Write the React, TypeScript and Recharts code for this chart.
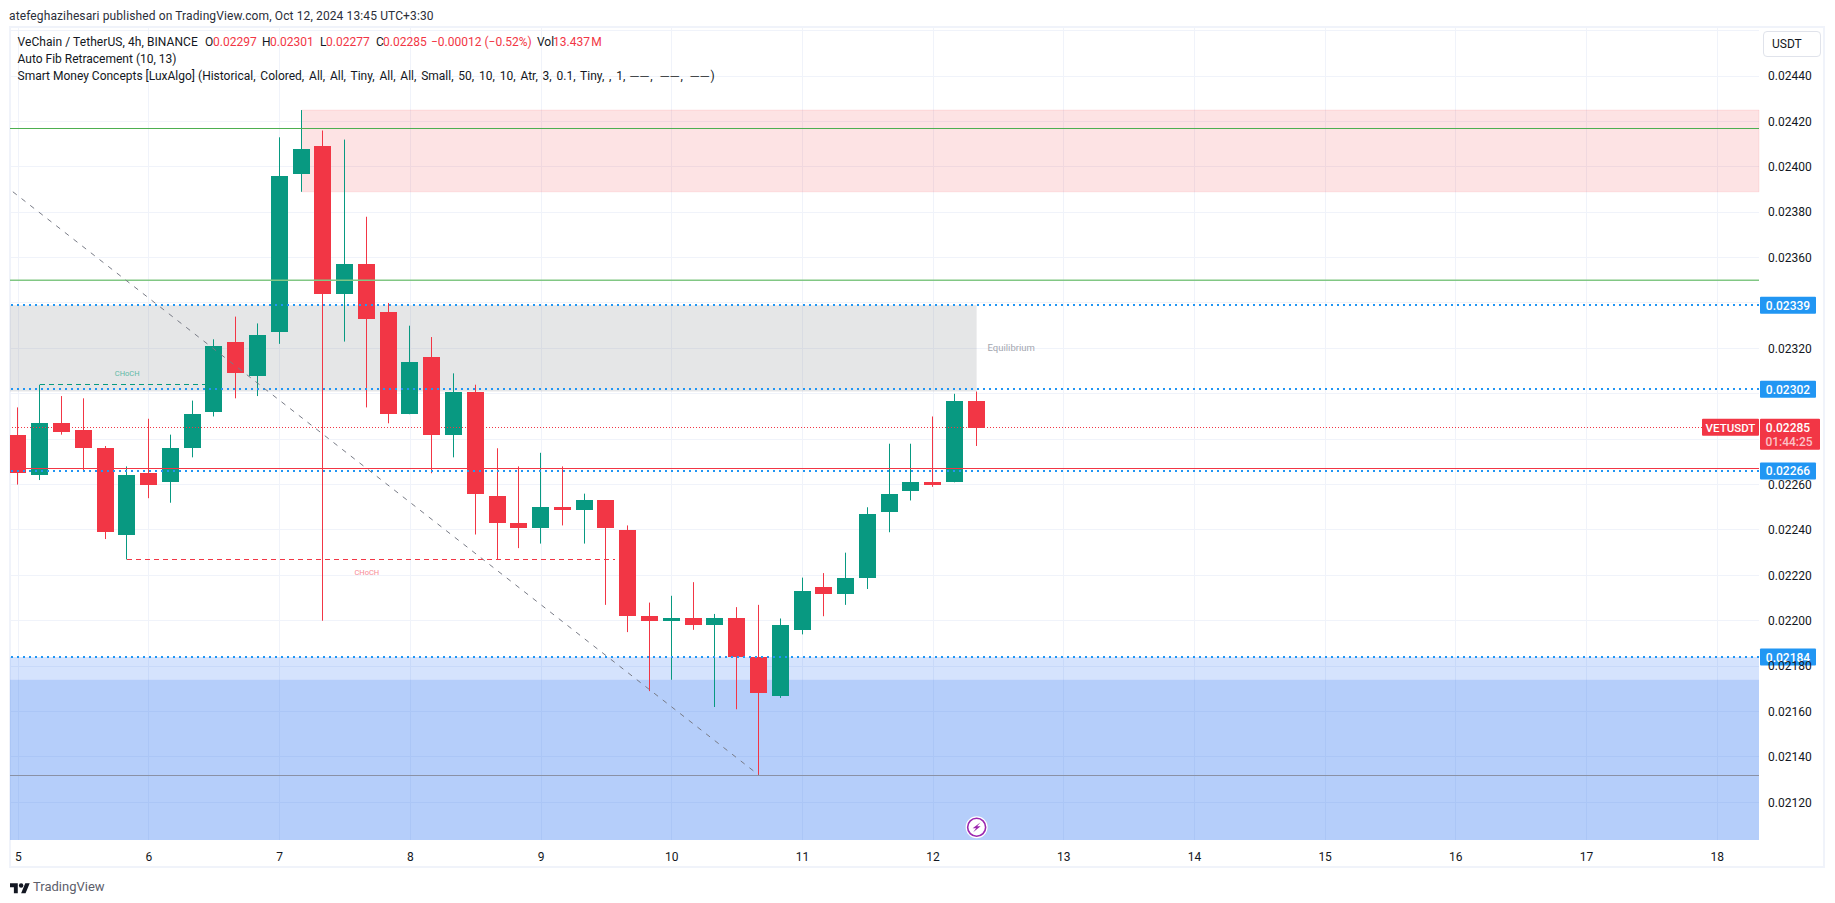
import React from "react";
import {
  ComposedChart, Bar, XAxis, YAxis, CartesianGrid,
  ReferenceArea, ReferenceLine, ReferenceDot,
} from "recharts";

const opens = [0.02282,0.02264,0.02287,0.02284,0.02276,0.02238,0.02265,0.02261,0.02276,0.02292,0.02323,0.02308,0.02327,0.02397,0.02409,0.02344,0.02357,0.02336,0.02291,0.02316,0.02282,0.02301,0.02255,0.02243,0.02241,0.0225,0.02249,0.02253,0.0224,0.02202,0.022,0.02201,0.02198,0.02201,0.02184,0.02167,0.02196,0.02215,0.02212,0.02219,0.02248,0.02257,0.02261,0.02261,0.02297];
const highs = [0.02294,0.02304,0.02299,0.02298,0.02277,0.02268,0.02289,0.02282,0.02297,0.02324,0.02334,0.02331,0.02413,0.02425,0.02416,0.02412,0.02378,0.0234,0.0233,0.02325,0.02309,0.02304,0.02276,0.02268,0.02274,0.02268,0.02256,0.02253,0.02242,0.02208,0.02211,0.02217,0.02203,0.02206,0.02207,0.02201,0.02219,0.02221,0.0223,0.0225,0.02278,0.02278,0.0229,0.023,0.02301];
const lows = [0.0226,0.02262,0.02282,0.02266,0.02236,0.02227,0.02254,0.02252,0.02272,0.0229,0.02298,0.02299,0.02322,0.02389,0.022,0.02323,0.02294,0.02287,0.02291,0.02265,0.02272,0.02238,0.02227,0.02232,0.02234,0.02242,0.02234,0.02207,0.02195,0.02169,0.02174,0.02196,0.02162,0.02161,0.02132,0.02166,0.02194,0.02202,0.02207,0.02214,0.02239,0.02253,0.02259,0.02261,0.02277];
const closes = [0.02265,0.02287,0.02283,0.02276,0.02239,0.02264,0.0226,0.02276,0.02291,0.02321,0.02309,0.02326,0.02396,0.02408,0.02344,0.02357,0.02333,0.02291,0.02314,0.02282,0.02301,0.02256,0.02243,0.02241,0.0225,0.02249,0.02253,0.02241,0.02202,0.022,0.02201,0.02198,0.02201,0.02184,0.02168,0.02198,0.02213,0.02212,0.02219,0.02247,0.02256,0.02261,0.0226,0.02297,0.02285];

const priceTicks = [0.0212,0.0214,0.0216,0.0218,0.022,0.0222,0.0224,0.0226,0.0232,0.0236,0.0238,0.024,0.0242,0.0244];
const gridPrices = [0.0212,0.0214,0.0216,0.0218,0.022,0.0222,0.0224,0.0226,0.0228,0.023,0.0232,0.0234,0.0236,0.0238,0.024,0.0242,0.0244,0.0246];
const dayTicks = [0,6,12,18,24,30,36,42,48,54,60,66,72,78];
const dayLabels = ["5","6","7","8","9","10","11","12","13","14","15","16","17","18"];

const candles = opens.map((open, i) => ({ i, open, high: highs[i], low: lows[i], close: closes[i] }));

const domainY: [number, number] = [0.021034, 0.024616];
const domainX: [number, number] = [-0.381, 79.92];

const GREEN = "#089981";
const RED = "#f23645";
const BLUE = "#2196f3";
const FONT = "Roboto, sans-serif";
const CRISP = { shapeRendering: "crispEdges" } as any;

function Candle(props: any) {
  const { x, y, width, height, payload } = props;
  const k = height / (payload.high - payload.low);
  const up = payload.close >= payload.open;
  const top = y + (payload.high - Math.max(payload.open, payload.close)) * k;
  const bot = y + (payload.high - Math.min(payload.open, payload.close)) * k;
  const cx = Math.floor(x + width / 2);
  const c = up ? GREEN : RED;
  return (
    <g>
      <rect x={cx} y={y} width={1} height={height} fill={c} />
      <rect x={cx - 8} y={Math.round(top)} width={17} height={Math.max(1, Math.round(bot) - Math.round(top))} fill={c} />
    </g>
  );
}

function BlueTag(props: any) {
  const { cx, cy, value } = props;
  return (
    <g>
      <rect x={cx + 1} y={cy - 8.5} width={56} height={17} rx={1} fill={BLUE} />
      <text x={cx + 29} y={cy + 4.5} textAnchor="middle" fill="#fff" fontSize={12} fontFamily={FONT} fontWeight={500}>{value}</text>
    </g>
  );
}

function LastTag(props: any) {
  const { cx, cy } = props;
  return (
    <g>
      <rect x={cx - 57} y={cy - 9} width={57} height={17} rx={1} fill={RED} />
      <text x={cx - 28.5} y={cy + 4} textAnchor="middle" fill="#fff" fontSize={11.5} fontFamily={FONT} fontWeight={500}>VETUSDT</text>
      <rect x={cx + 1} y={cy - 9} width={60} height={31} rx={1} fill={RED} />
      <text x={cx + 29} y={cy + 4} textAnchor="middle" fill="#fff" fontSize={12} fontFamily={FONT} fontWeight={500}>0.02285</text>
      <text x={cx + 30} y={cy + 18} textAnchor="middle" fill="#fbc3c8" fontSize={12} fontFamily={FONT} fontWeight={500}>01:44:25</text>
    </g>
  );
}

function SmallText(props: any) {
  const { cx, cy, text, fill, size, anchor } = props;
  return <text x={cx} y={cy} textAnchor={anchor || "middle"} fill={fill} fontSize={size} fontFamily={FONT}>{text}</text>;
}

function Bolt(props: any) {
  const { cx, cy } = props;
  return (
    <g>
      <circle cx={cx} cy={cy} r={11} fill="#fff" />
      <circle cx={cx} cy={cy} r={9} fill="#fff" stroke="#9c27b0" strokeWidth={1.6} />
      <path d={`M${cx + 4} ${cy - 5}L${cx - 4} ${cy + 1}H${cx - 0.5}L${cx - 3.5} ${cy + 5}L${cx + 4} ${cy - 1}H${cx + 0.5}Z`} fill="#9c27b0" />
    </g>
  );
}

const abs = (left: number, top: number, extra: React.CSSProperties = {}): React.CSSProperties => ({
  position: "absolute", left, top, whiteSpace: "nowrap", lineHeight: "14px", ...extra,
});

function Legend() {
  const dark = "#131722";
  const parts: [number, string, string][] = [
    [17.5, "VeChain / TetherUS, 4h, BINANCE", dark],
    [205, "O", dark], [213, "0.02297", RED],
    [262, "H", dark], [270, "0.02301", RED],
    [320, "L", dark], [326, "0.02277", RED],
    [376, "C", dark], [383, "0.02285", RED],
    [431, "\u22120.00012 (\u22120.52%)", RED],
    [537, "Vol", dark], [553, "13.437\u202FM", RED],
  ];
  return (
    <div style={{ fontFamily: FONT, fontSize: 12, color: dark }}>
      <div style={abs(9, 9, { color: "#2a2e39", letterSpacing: 0.12 })}>atefeghazihesari published on TradingView.com, Oct 12, 2024 13:45 UTC+3:30</div>
      {parts.map(([l, t, c]) => <div key={l} style={abs(l, 35, { color: c, letterSpacing: l === 17.5 ? 0.07 : 0 })}>{t}</div>)}
      <div style={abs(17.5, 52)}>Auto Fib Retracement (10, 13)</div>
      <div style={abs(17.5, 69)}>Smart Money Concepts [LuxAlgo] <span style={{ wordSpacing: 1.85 }}>(Historical, Colored, All, All, Tiny, All, All, Small, 50, 10, 10, Atr, 3, 0.1, Tiny, , 1, <span style={{ letterSpacing: 1.5 }}>──, ──, ──</span>)</span></div>
      <div style={{ position: "absolute", left: 1763, top: 31, width: 58, height: 26, boxSizing: "border-box", border: "1px solid #e0e3eb", borderRadius: 4, background: "#fff", color: dark, lineHeight: "24px", paddingLeft: 8 }}>USDT</div>
      <svg style={{ position: "absolute", left: 10, top: 881 }} width={20} height={14} viewBox="0 0 36 25">
        <path d="M14 22H7V11H0V4h14v18zM28 22h-8l7.5-18h8L28 22z" fill="#131722" />
        <circle cx="20" cy="8" r="4" fill="#131722" />
      </svg>
      <div style={abs(33, 879, { fontSize: 13, lineHeight: "16px", color: "#5d606b" })}>TradingView</div>
    </div>
  );
}

export default function App() {
  return (
    <div style={{ position: "absolute", left: 0, top: 0, width: 1835, height: 903, overflow: "hidden", background: "#fff" }}>
      <div style={{ position: "absolute", left: 9, top: 26, width: 1816, height: 842, boxSizing: "border-box", border: "2px solid #f0f3fa" }} />
      <ComposedChart
        width={1835} height={903} data={candles}
        margin={{ top: 27, right: 11, bottom: 35, left: 10 }}
        style={{ position: "absolute", left: 0, top: 0 }}
      >
        <CartesianGrid stroke="#f0f3fa" strokeWidth={1} horizontalValues={gridPrices} verticalValues={dayTicks} {...CRISP} />
        <XAxis
          type="number" dataKey="i" domain={domainX} allowDataOverflow ticks={dayTicks} height={28}
          tickFormatter={(v: number) => dayLabels[dayTicks.indexOf(v)]}
          axisLine={false} tickLine={false} tickMargin={6} interval={0}
          tick={{ fill: "#131722", fontSize: 12, fontFamily: FONT }}
        />
        <YAxis
          type="number" orientation="right" domain={domainY} allowDataOverflow ticks={priceTicks} width={65} interval={0}
          tickFormatter={(v: number) => v.toFixed(5)}
          axisLine={false} tickLine={false} tickMargin={3}
          tick={{ fill: "#131722", fontSize: 12, fontFamily: FONT, textAnchor: "start" }}
        />

        <ReferenceArea x1={13} y1={0.02425} y2={0.02389} fill="rgb(242,68,75)" fillOpacity={0.15} stroke="rgba(242,54,69,0.1)" />
        <ReferenceArea x2={44} y1={0.02339} y2={0.02301} fill="rgb(115,120,130)" fillOpacity={0.19} stroke="none" />
        <ReferenceArea y1={0.02184} y2={0.02174} fill="rgb(22,99,244)" fillOpacity={0.18} stroke="none" />
        <ReferenceArea y1={0.02174} y2={domainY[0]} fill="rgb(31,107,240)" fillOpacity={0.33} stroke="none" />

        <ReferenceLine y={0.02417} stroke="#4caf50" strokeWidth={1} {...CRISP} />
        <ReferenceLine y={0.0235} stroke="#81c784" strokeWidth={1.4} />
        <ReferenceLine y={0.02132} stroke="#8a91a5" strokeWidth={1} {...CRISP} />
        <ReferenceLine y={0.02339} stroke={BLUE} strokeWidth={2} strokeDasharray="2 4" {...CRISP} />
        <ReferenceLine y={0.02302} stroke={BLUE} strokeWidth={2} strokeDasharray="2 4" {...CRISP} />
        <ReferenceLine y={0.02184} stroke={BLUE} strokeWidth={2} strokeDasharray="2 4" {...CRISP} />
        <ReferenceLine y={0.02266} stroke={BLUE} strokeWidth={2} strokeDasharray="2 4" {...CRISP} />
        <ReferenceLine y={0.02267} stroke={RED} strokeWidth={1} {...CRISP} />
        <ReferenceLine y={0.02285} stroke={RED} strokeWidth={1} strokeDasharray="1 2" {...CRISP} />
        <ReferenceLine segment={[{ x: -0.25, y: 0.02389 }, { x: 34, y: 0.02132 }]} stroke="#787b86" strokeWidth={1} strokeDasharray="5 6" ifOverflow="visible" />
        <ReferenceLine segment={[{ x: 1, y: 0.02304 }, { x: 9, y: 0.02304 }]} stroke={GREEN} strokeWidth={1} strokeDasharray="5 4" {...CRISP} />
        <ReferenceLine segment={[{ x: 5, y: 0.02227 }, { x: 27.4, y: 0.02227 }]} stroke={RED} strokeWidth={1} strokeDasharray="5 4" {...CRISP} />

        <Bar dataKey={(d: any) => [d.low, d.high]} barSize={17} isAnimationActive={false} shape={<Candle />} />

        <ReferenceDot x={5} y={0.02308} r={0} ifOverflow="visible" shape={(p: any) => <SmallText {...p} text="CHoCH" fill="#5cb9a6" size={7.5} />} />
        <ReferenceDot x={16} y={0.0222} r={0} ifOverflow="visible" shape={(p: any) => <SmallText {...p} text="CHoCH" fill="#f88b94" size={7.5} />} />
        <ReferenceDot x={44.5} y={0.02319} r={0} ifOverflow="visible" shape={(p: any) => <SmallText {...p} text="Equilibrium" fill="#a3a6af" size={9.5} anchor="start" />} />
        <ReferenceDot x={44} y={0.02109} r={0} ifOverflow="visible" shape={(p: any) => <Bolt {...p} />} />

        <ReferenceDot x={domainX[1]} y={0.02339} r={0} ifOverflow="visible" shape={(p: any) => <BlueTag {...p} value="0.02339" />} />
        <ReferenceDot x={domainX[1]} y={0.02302} r={0} ifOverflow="visible" shape={(p: any) => <BlueTag {...p} value="0.02302" />} />
        <ReferenceDot x={domainX[1]} y={0.02266} r={0} ifOverflow="visible" shape={(p: any) => <BlueTag {...p} value="0.02266" />} />
        <ReferenceDot x={domainX[1]} y={0.02184} r={0} ifOverflow="visible" shape={(p: any) => <BlueTag {...p} value="0.02184" />} />
        <ReferenceDot x={domainX[1]} y={0.02285} r={0} ifOverflow="visible" shape={(p: any) => <LastTag {...p} />} />
      </ComposedChart>
      <Legend />
    </div>
  );
}
